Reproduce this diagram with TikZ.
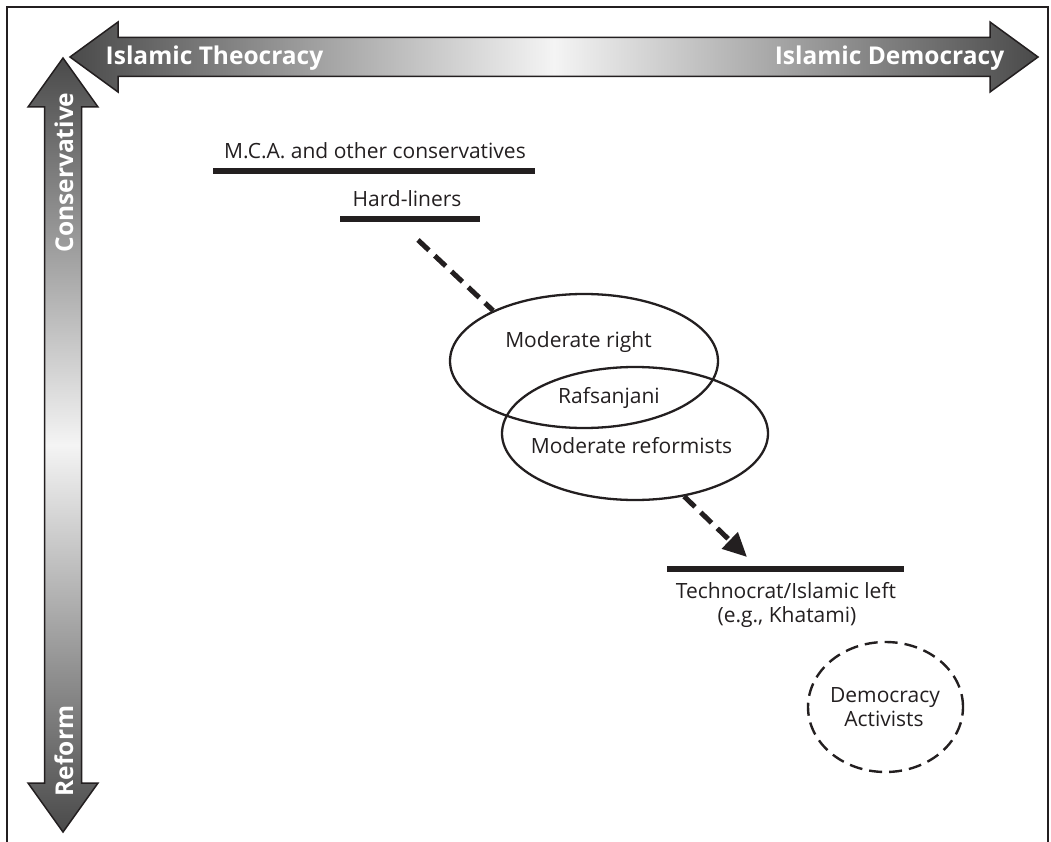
\documentclass[tikz,border=0pt]{standalone}
\usepackage{fontspec}
\setmainfont{Open Sans}
\usetikzlibrary{arrows.meta,shapes.geometric}
\definecolor{gdark}{HTML}{4A4A4A}
\definecolor{glight}{HTML}{F4F4F4}
\definecolor{ink}{HTML}{231F20}
\begin{document}
\begin{tikzpicture}[x=1pt,y=-1pt,
  txt/.style={font=\fontsize{21}{25}\selectfont, text=ink, inner sep=0pt, anchor=base},
  axtxt/.style={font=\fontsize{24.5}{28}\selectfont\bfseries, text=white, inner sep=0pt, anchor=base},
  bar/.style={line width=5.5pt, draw=ink},
  oval/.style={draw=ink, ellipse, line width=2.3pt, inner sep=0pt},
  dashoval/.style={draw=ink, ellipse, line width=2.4pt, inner sep=0pt, dash pattern=on 13pt off 7pt},
  dasharrow/.style={draw=ink, line width=5pt, dash pattern=on 15pt off 8pt},
  arrowbody/.style={draw=ink, line width=1.5pt, line join=miter}
]
\useasboundingbox (0,0) rectangle (1051,842);
% frame (open at the bottom)
\draw[ink, line width=2pt] (7,850) -- (7,7) -- (1048,7) -- (1048,850);

% horizontal double arrow
\shadedraw[arrowbody, left color=gdark, right color=gdark, middle color=glight]
  (70,57) -- (118,22) -- (118,37.5) -- (990,37.5) -- (990,22) -- (1038,57)
  -- (990,92) -- (990,76.5) -- (118,76.5) -- (118,92) -- cycle;
% vertical double arrow
\shadedraw[arrowbody, top color=gdark, bottom color=gdark, middle color=glight]
  (63,58) -- (98,107) -- (81.5,107) -- (81.5,783) -- (98,783) -- (63,832)
  -- (28,783) -- (44.5,783) -- (44.5,107) -- (28,107) -- cycle;

\node[axtxt] (th) at (214.5,65) {Islamic Theocracy};
\node[axtxt] (dm) at (889.5,65) {Islamic Democracy};
\node[axtxt, rotate=90] (cons) at (73,172.5) {Conservative};
\node[axtxt, rotate=90] (refm) at (73,751) {Reform};

% conservatives
\node[txt] (mca) at (375,159) {M.C.A. and other conservatives};
\draw[bar] (213,171) -- (535,171);
\node[txt] (hl) at (407,207) {Hard-liners};
\draw[bar] (340,219) -- (480,219);

% ellipses
\node[oval, minimum width=268pt, minimum height=134pt] (mr) at (584,361) {};
\node[oval, minimum width=266pt, minimum height=133pt] (mref) at (635,433.5) {};
\node[txt] (mrt) at (578.5,347) {Moderate right};
\node[txt] (raf) at (609,403) {Rafsanjani};
\node[txt] (mreft) at (631.5,453) {Moderate reformists};

% technocrats
\draw[bar] (667,569) -- (904,569);
\node[txt] (tech1) at (786,598) {Technocrat/Islamic left};
\node[txt] (tech2) at (787,622) {(e.g., Khatami)};

% democracy activists
\node[dashoval, minimum width=155pt, minimum height=130pt] (da) at (885.5,707) {};
\node[txt] (da1) at (885,702) {Democracy};
\node[txt] (da2) at (884,726) {Activists};

% dashed connectors
\coordinate (s1) at (418,240);
\draw[dasharrow] (s1) -- (mr.151);
\coordinate (e2) at (747,557);
\draw[dasharrow, -{Triangle[length=24pt,width=22pt]}] (mref.-52) -- (e2);
\end{tikzpicture}
\end{document}
